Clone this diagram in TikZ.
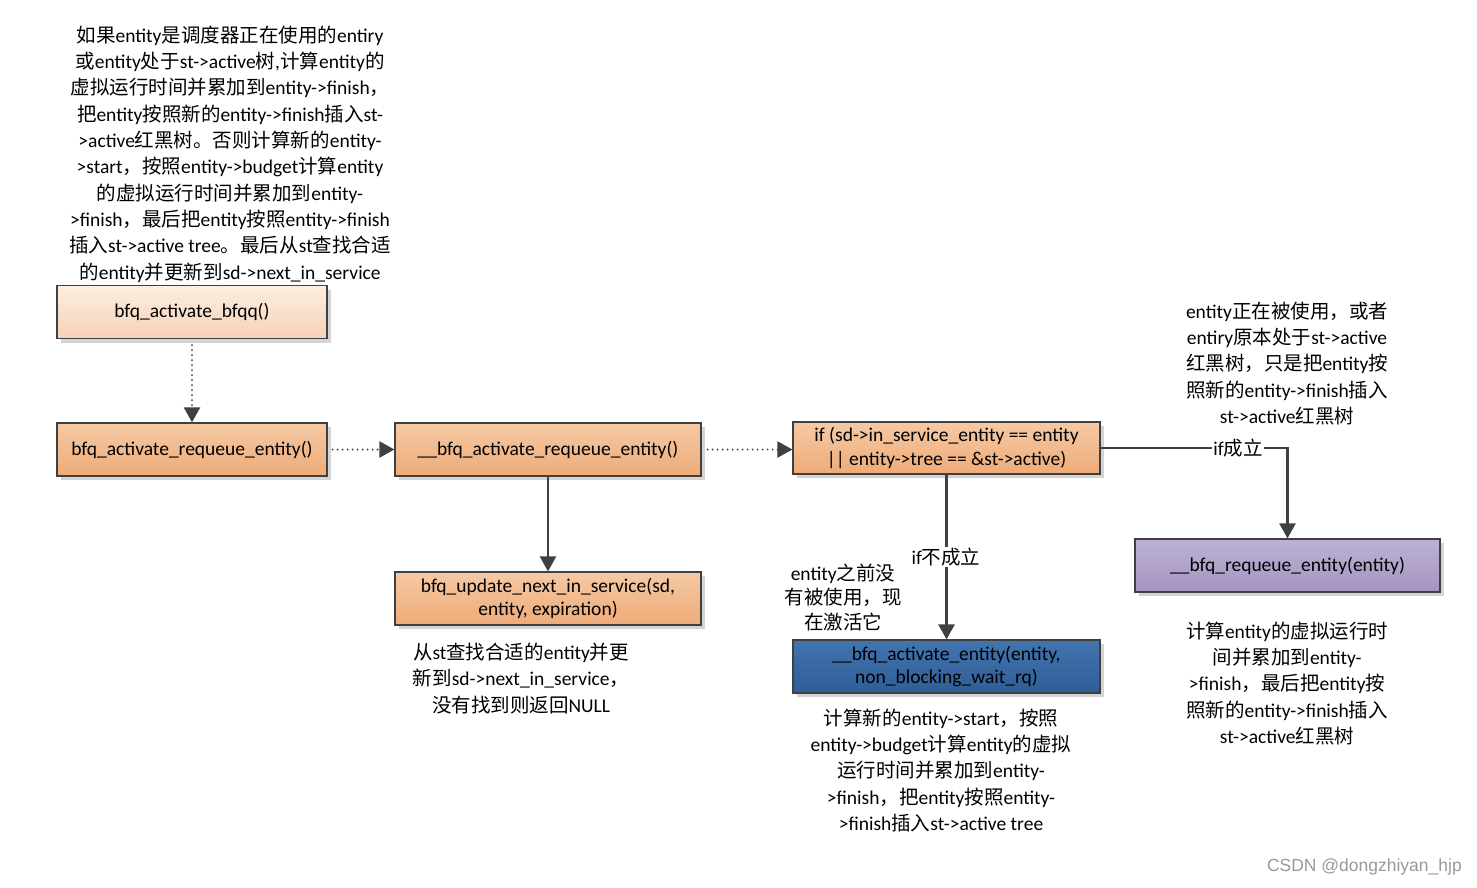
\documentclass[tikz,border=0pt]{standalone}
\usepackage{fontspec}
\setmainfont{Carlito}
\newfontfamily\zhfont{Noto Sans CJK SC}
\newfontfamily\wmfont{Liberation Sans}
\usetikzlibrary{arrows.meta,shadows}
\newcommand{\zh}[1]{{\zhfont #1}}
\definecolor{edge}{HTML}{404040}
\definecolor{pkTop}{HTML}{FDEEE2}
\definecolor{pkBot}{HTML}{F6D2B6}
\definecolor{orTop}{HTML}{F5C9A5}
\definecolor{orBot}{HTML}{EEAB77}
\definecolor{blTop}{HTML}{4274AE}
\definecolor{blBot}{HTML}{2F5E97}
\definecolor{puTop}{HTML}{BDB1D3}
\definecolor{puBot}{HTML}{A594C2}
\tikzset{
  box/.style={draw=edge, line width=1.2pt, minimum height=53pt, align=center,
    inner sep=2pt, font=\fontsize{19.5}{23.5}\selectfont,
    drop shadow={shadow xshift=4pt, shadow yshift=-4pt, opacity=1, fill=black!17}},
  pinkbox/.style={box, top color=pkTop, bottom color=pkBot},
  orangebox/.style={box, top color=orTop, bottom color=orBot},
  bluebox/.style={box, top color=blTop, bottom color=blBot},
  purplebox/.style={box, top color=puTop, bottom color=puBot},
  txt/.style={align=center, inner sep=0pt, font=\fontsize{19.5}{26.3}\selectfont},
  lbl/.style={fill=white, inner sep=1pt, font=\fontsize{19.5}{23}\selectfont},
  solidarrow/.style={draw=edge, line width=2.4pt, -{Triangle[length=15pt,width=16pt]}},
  dotarrow/.style={draw=edge, line width=2.2pt, line cap=round, dash pattern=on 0pt off 5pt,
    -{Triangle[length=15pt,width=16pt,line cap=butt]}},
}
\begin{document}
\begin{tikzpicture}[x=1pt,y=-1pt]
\useasboundingbox (0,0) rectangle (1477,887);

% boxes
\node[pinkbox, minimum width=270pt] (A) at (192,312) {bfq\_activate\_bfqq()};
\node[orangebox, minimum width=270pt] (B) at (192,449.5) {bfq\_activate\_requeue\_entity()};
\node[orangebox, minimum width=306pt] (C) at (548,449.5) {\_\_bfq\_activate\_requeue\_entity()};
\node[orangebox, minimum width=307pt, minimum height=52pt] (D) at (946.5,448) {if (sd->in\_service\_entity == entity\\|| entity->tree == \&st->active)};
\node[orangebox, minimum width=306pt] (E) at (548,598.5) {bfq\_update\_next\_in\_service(sd,\\entity, expiration)};
\node[bluebox, minimum width=307pt] (F) at (946.5,666.5) {\_\_bfq\_activate\_entity(entity,\\non\_blocking\_wait\_rq)};
\node[purplebox, minimum width=305pt] (G) at (1287.5,565.5) {\_\_bfq\_requeue\_entity(entity)};

% connectors
\draw[dotarrow, shorten <=6pt] (A) -- (B);
\draw[dotarrow, shorten <=5pt] (B) -- (C);
\draw[dotarrow, shorten <=6pt] (C.east) -- (C.east -| D.west);
\draw[solidarrow] (C) -- (E);
\draw[solidarrow] (D.east) -| (G.north);
\draw[solidarrow] (D) -- (F);
\node[lbl] (L1) at (1238,448) {if\zh{成立}};
\node[lbl] (L2) at (946,557) {if\zh{不成立}};

% free texts
\node[txt] (T1) at (230,154) {\zh{如果}entity\zh{是调度器正在使用的}entiry\\
\zh{或}entity\zh{处于}st->active\zh{树},\zh{计算}entity\zh{的}\\
\zh{虚拟运行时间并累加到}entity->finish\zh{，}\\
\zh{把}entity\zh{按照新的}entity->finish\zh{插入}st-\\
>active\zh{红黑树。否则计算新的}entity-\\
>start\zh{，按照}entity->budget\zh{计算}entity\\
\zh{的虚拟运行时间并累加到}entity-\\
>finish\zh{，最后把}entity\zh{按照}entity->finish\\
\zh{插入}st->active tree\zh{。最后从}st\zh{查找合适}\\
\zh{的}entity\zh{并更新到}sd->next\_in\_service};

\node[txt] (T2) at (1287,363.5) {entity\zh{正在被使用，或者}\\
entiry\zh{原本处于}st->active\\
\zh{红黑树，只是把}entity\zh{按}\\
\zh{照新的}entity->finish\zh{插入}\\
st->active\zh{红黑树}};

\node[txt] (T3) at (1287,683.5) {\zh{计算}entity\zh{的虚拟运行时}\\
\zh{间并累加到}entity-\\
>finish\zh{，最后把}entity\zh{按}\\
\zh{照新的}entity->finish\zh{插入}\\
st->active\zh{红黑树}};

\node[txt] (T4) at (521,678.5) {\zh{从}st\zh{查找合适的}entity\zh{并更}\\
\zh{新到}sd->next\_in\_service\zh{，}\\
\zh{没有找到则返回}NULL};

\node[txt] (T5) at (941,770.5) {\zh{计算新的}entity->start\zh{，按照}\\
entity->budget\zh{计算}entity\zh{的虚拟}\\
\zh{运行时间并累加到}entity-\\
>finish\zh{，把}entity\zh{按照}entity-\\
>finish\zh{插入}st->active tree};

\node[txt, font=\fontsize{19.5}{24.5}\selectfont] (T6) at (843,597.5) {entity\zh{之前没}\\
\zh{有被使用，现}\\
\zh{在激活它}};

\node[anchor=east, inner sep=0pt, text=black!40, font=\wmfont\fontsize{17.5}{20}\selectfont] (W) at (1462,867) {CSDN @dongzhiyan\_hjp};
\end{tikzpicture}
\end{document}
